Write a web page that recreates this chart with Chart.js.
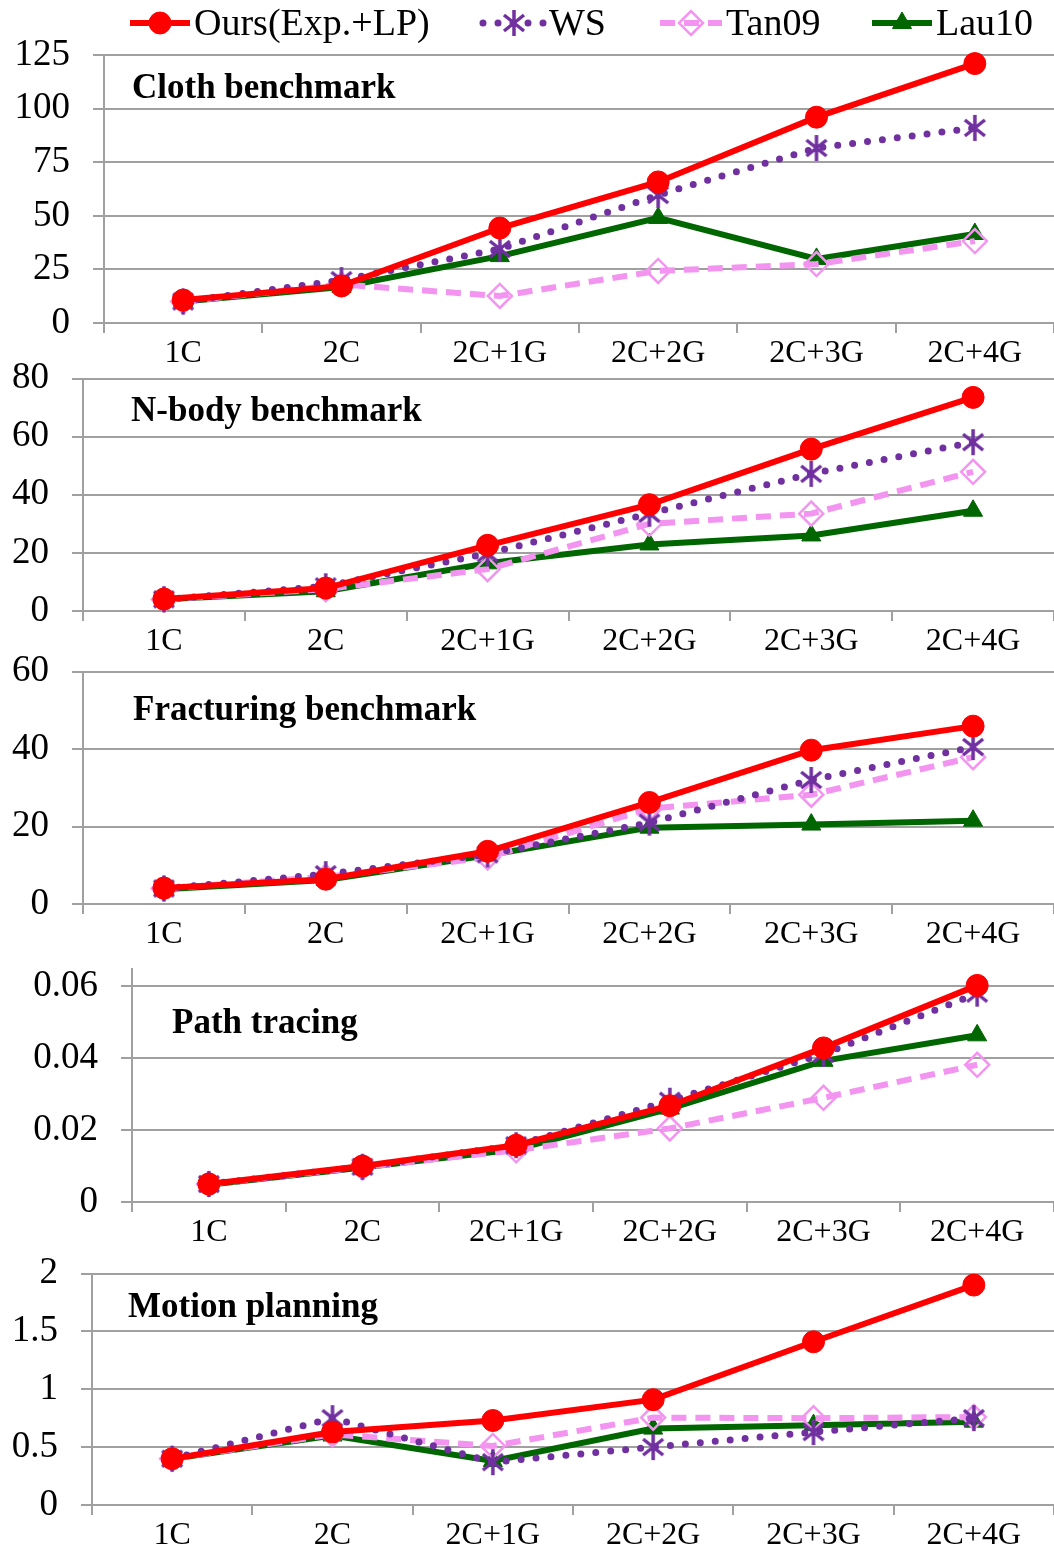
<!DOCTYPE html>
<html>
<head>
<meta charset="utf-8">
<script src="https://cdn.jsdelivr.net/npm/chart.js@4.4.1/dist/chart.umd.min.js"></script>
<style>
  html, body { margin: 0; padding: 0; background: #fff; width: 1054px; height: 1549px; overflow: hidden; }
  canvas { position: absolute; left: 0; }
</style>
</head>
<body>
<canvas id="c1"></canvas>
<canvas id="c2"></canvas>
<canvas id="c3"></canvas>
<canvas id="c4"></canvas>
<canvas id="c5"></canvas>
<script>
// ---- data ----
const categories = ['1C', '2C', '2C+1G', '2C+2G', '2C+3G', '2C+4G'];
const seriesNames = ['Ours(Exp.+LP)', 'WS', 'Tan09', 'Lau10'];

const clothOurs  = [10.7, 17.3, 44.3, 65.8, 96.0, 121.0];
const clothWS    = [10.0, 20.0, 34.5, 59.7, 81.6, 91.0];
const clothTan09 = [10.0, 18.0, 12.6, 24.3, 27.5, 38.2];
const clothLau10 = [10.0, 16.8, 31.2, 49.0, 29.9, 41.5];
const clothTicks = [0, 25, 50, 75, 100, 125];

const nbodyOurs  = [4.1, 7.9, 22.6, 36.6, 55.7, 73.5];
const nbodyWS    = [4.0, 8.5, 19.8, 33.5, 47.2, 58.1];
const nbodyTan09 = [4.0, 7.5, 14.4, 30.0, 33.5, 47.9];
const nbodyLau10 = [4.0, 6.8, 16.4, 22.9, 26.0, 34.5];
const nbodyTicks = [0, 20, 40, 60, 80];

const fractOurs  = [4.1, 6.4, 13.6, 26.2, 39.7, 45.9];
const fractWS    = [4.0, 7.7, 12.8, 21.0, 32.0, 40.5];
const fractTan09 = [4.0, 7.0, 12.0, 24.6, 28.2, 37.9];
const fractLau10 = [3.8, 6.2, 12.6, 19.7, 20.5, 21.5];
const fractTicks = [0, 20, 40, 60];

const pathOurs  = [0.0050, 0.0100, 0.0158, 0.0268, 0.0429, 0.0603];
const pathWS    = [0.0050, 0.0098, 0.0158, 0.0282, 0.0412, 0.0580];
const pathTan09 = [0.0050, 0.0097, 0.0144, 0.0205, 0.0290, 0.0382];
const pathLau10 = [0.0048, 0.0096, 0.0147, 0.0260, 0.0393, 0.0464];
const pathTicks = [0, 0.02, 0.04, 0.06];

const motionOurs  = [0.40, 0.63, 0.73, 0.91, 1.41, 1.90];
const motionWS    = [0.40, 0.75, 0.37, 0.50, 0.63, 0.75];
const motionTan09 = [0.40, 0.61, 0.51, 0.755, 0.75, 0.76];
const motionLau10 = [0.40, 0.60, 0.38, 0.66, 0.69, 0.72];
const motionTicks = [0, 0.5, 1, 1.5, 2];

// ---- styling ----
const FONT = '"Liberation Serif", "Times New Roman", serif';
const GRID = '#a0a0a0';
const RED = '#ff0000', PURPLE = '#7030a0', PINK = '#f294f0', GREEN = '#006600';

// asterisk marker (vertical bar + X)
function makeAsterisk() {
  const c = document.createElement('canvas');
  c.width = 26; c.height = 28;
  const g = c.getContext('2d');
  g.strokeStyle = PURPLE; g.lineWidth = 3.5; g.lineCap = 'butt';
  g.beginPath();
  g.moveTo(13, 1); g.lineTo(13, 27);
  g.moveTo(3, 6); g.lineTo(23, 22);
  g.moveTo(3, 22); g.lineTo(23, 6);
  g.stroke();
  return c;
}
const asterisk = makeAsterisk();

function seriesStyles() {
  return [
    { borderColor: RED, backgroundColor: RED, borderWidth: 6, pointStyle: 'circle',
      pointRadius: 11, pointBorderWidth: 1, pointBackgroundColor: RED, order: 0 },
    { borderColor: PURPLE, backgroundColor: PURPLE, borderWidth: 7, borderDash: [0, 15],
      borderCapStyle: 'round', pointStyle: asterisk, pointRadius: 13, order: 1 },
    { borderColor: PINK, backgroundColor: 'rgba(255,255,255,0)', borderWidth: 6, borderDash: [15, 9],
      pointStyle: 'rectRot', pointRadius: 12, pointBorderWidth: 2.5,
      pointBackgroundColor: 'rgba(255,255,255,0)', order: 2 },
    { borderColor: GREEN, backgroundColor: GREEN, borderWidth: 6, pointStyle: 'triangle',
      pointRadius: 11, pointBorderWidth: 1, pointBackgroundColor: GREEN, order: 3 }
  ];
}

// panel title inside the plot area
const panelTitle = {
  id: 'panelTitle',
  afterDraw(chart, args, opts) {
    if (!opts.text) return;
    const ctx = chart.ctx;
    ctx.save();
    ctx.font = 'bold 35px ' + FONT;
    ctx.fillStyle = '#000';
    ctx.textBaseline = 'middle';
    ctx.textAlign = 'left';
    ctx.fillText(opts.text, opts.x, opts.y);
    ctx.restore();
  }
};

// shared legend row drawn above the first panel
const legendRow = {
  id: 'legendRow',
  afterDraw(chart, args, opts) {
    if (!opts.items) return;
    const ctx = chart.ctx;
    const styles = seriesStyles();
    const y = opts.y;
    opts.items.forEach((it, i) => {
      const s = styles[i];
      ctx.save();
      ctx.strokeStyle = s.borderColor;
      ctx.lineWidth = s.borderWidth;
      ctx.lineCap = s.borderCapStyle || 'butt';
      ctx.setLineDash(s.borderDash || []);
      ctx.beginPath();
      ctx.moveTo(it.x0, y); ctx.lineTo(it.x1, y);
      ctx.stroke();
      ctx.setLineDash([]);
      ctx.fillStyle = s.pointBackgroundColor || s.backgroundColor;
      ctx.strokeStyle = s.borderColor;
      ctx.lineWidth = s.pointBorderWidth || 1;
      Chart.helpers.drawPoint(ctx, { pointStyle: s.pointStyle, radius: s.pointRadius,
        rotation: 0, borderWidth: s.pointBorderWidth || 1 }, (it.x0 + it.x1) / 2, y);
      ctx.fillStyle = '#000';
      ctx.font = '38px ' + FONT;
      ctx.textBaseline = 'middle';
      ctx.textAlign = 'left';
      ctx.fillText(seriesNames[i], it.x1 + 4, y + 2);
      ctx.restore();
    });
  }
};

const X_AXIS_H = 45;

function makePanel(id, cfg) {
  const canvas = document.getElementById(id);
  const h = cfg.pad + cfg.plotH + X_AXIS_H;
  canvas.width = 1054; canvas.height = h;
  canvas.style.top = cfg.top + 'px';
  canvas.style.width = '1054px'; canvas.style.height = h + 'px';
  const styles = seriesStyles();
  const datasets = cfg.series.map((vals, i) => Object.assign({
    label: seriesNames[i], data: vals, tension: 0, clip: false, fill: false
  }, styles[i]));

  new Chart(canvas, {
    type: 'line',
    data: { labels: categories, datasets },
    plugins: [panelTitle, legendRow],
    options: {
      responsive: false,
      animation: false,
      events: [],
      layout: { autoPadding: false, padding: { top: cfg.pad, left: 0, right: 0, bottom: 0 } },
      plugins: {
        legend: { display: false },
        tooltip: { enabled: false },
        panelTitle: { text: cfg.title, x: cfg.tx, y: cfg.ty - cfg.top },
        legendRow: cfg.legend ? { items: cfg.legend, y: 23 } : {}
      },
      scales: {
        x: {
          offset: true,
          grid: { offset: true, drawOnChartArea: false, drawTicks: true, tickLength: 10,
                  color: GRID, lineWidth: 2 },
          border: { display: true, color: GRID, width: 2 },
          ticks: { color: '#000', font: { family: FONT, size: 32, lineHeight: 1 },
                   padding: 5, maxRotation: 0, autoSkip: false },
          afterFit(scale) {
            scale.height = X_AXIS_H;
            scale.paddingLeft = 0;
            scale.paddingRight = 0;
          }
        },
        y: {
          min: 0, max: cfg.max,
          grid: { color: GRID, lineWidth: 2, drawTicks: true, tickLength: 11 },
          border: { display: true, color: GRID, width: 2 },
          ticks: { color: '#000', font: { family: FONT, size: 37, lineHeight: 1 }, padding: 23,
                   callback: v => String(v) },
          afterBuildTicks(scale) { scale.ticks = cfg.ticks.map(v => ({ value: v })); },
          afterFit(scale) { scale.width = cfg.axisX + 1; }
        }
      }
    }
  });
}

makePanel('c1', {
  top: 0, pad: 55, plotH: 268, axisX: 103, max: 125, ticks: clothTicks,
  series: [clothOurs, clothWS, clothTan09, clothLau10],
  title: 'Cloth benchmark', tx: 132, ty: 89,
  legend: [ { x0: 130, x1: 190 }, { x0: 483, x1: 545 }, { x0: 660, x1: 722 }, { x0: 872, x1: 932 } ]
});
makePanel('c2', {
  top: 337, pad: 40, plotH: 234, axisX: 82, max: 80, ticks: nbodyTicks,
  series: [nbodyOurs, nbodyWS, nbodyTan09, nbodyLau10],
  title: 'N-body benchmark', tx: 131, ty: 412
});
makePanel('c3', {
  top: 630, pad: 40, plotH: 234, axisX: 82, max: 60, ticks: fractTicks,
  series: [fractOurs, fractWS, fractTan09, fractLau10],
  title: 'Fracturing benchmark', tx: 133, ty: 711
});
makePanel('c4', {
  top: 927, pad: 40, plotH: 235, axisX: 131, max: 0.065, ticks: pathTicks,
  series: [pathOurs, pathWS, pathTan09, pathLau10],
  title: 'Path tracing', tx: 172, ty: 1024
});
makePanel('c5', {
  top: 1232, pad: 40, plotH: 233, axisX: 91, max: 2, ticks: motionTicks,
  series: [motionOurs, motionWS, motionTan09, motionLau10],
  title: 'Motion planning', tx: 128, ty: 1308
});
</script>
</body>
</html>
